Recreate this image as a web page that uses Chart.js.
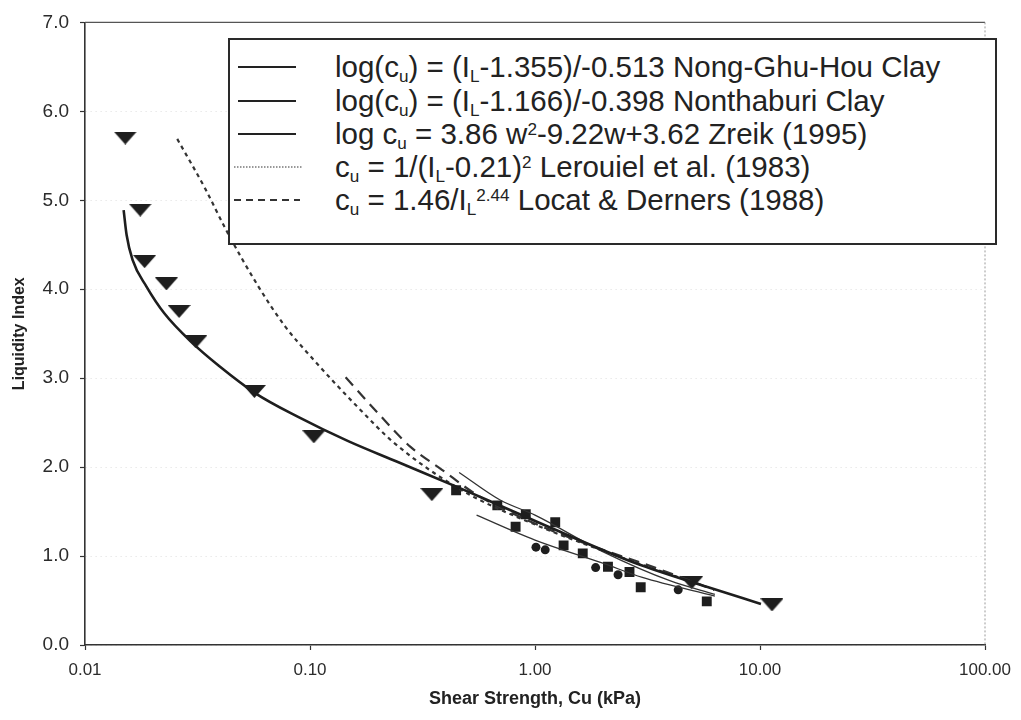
<!DOCTYPE html>
<html>
<head>
<meta charset="utf-8">
<title>Liquidity Index vs Shear Strength</title>
<script src="https://cdn.jsdelivr.net/npm/chart.js@4.4.1/dist/chart.umd.min.js"></script>
<style>
  html, body { margin: 0; padding: 0; background: #ffffff; }
  #wrap { position: relative; width: 1021px; height: 720px; overflow: hidden; }
  #chart { display: block; }
  #legend {
    position: absolute; left: 228px; top: 38px; width: 765px; height: 203px;
    border: 2px solid #2a2a2a; background: #ffffff;
    font-family: "Liberation Sans", Arial, sans-serif; font-size: 29.5px; color: #222;
  }
  #legend .row { position: absolute; left: 0; height: 34px; width: 100%; }
  #legend .row svg { position: absolute; left: 4px; top: 0; }
  #legend .row .t { position: absolute; left: 105px; top: 0; line-height: 34px; white-space: nowrap; }
  #legend sub { font-size: 58%; vertical-align: baseline; position: relative; top: 0.3em; }
  #legend sup { font-size: 58%; vertical-align: baseline; position: relative; top: -0.55em; }
</style>
</head>
<body>
<div id="wrap">
  <canvas id="chart" width="1021" height="720"></canvas>
  <div id="legend">
    <div class="row" style="top:10px"><svg width="80" height="34"><line x1="4" y1="17" x2="62" y2="17" stroke="#222" stroke-width="2"/></svg>
      <span class="t">log(c<sub>u</sub>) = (I<sub>L</sub>-1.355)/-0.513 Nong-Ghu-Hou Clay</span></div>
    <div class="row" style="top:44px"><svg width="80" height="34"><line x1="4" y1="17" x2="62" y2="17" stroke="#222" stroke-width="2"/></svg>
      <span class="t">log(c<sub>u</sub>) = (I<sub>L</sub>-1.166)/-0.398 Nonthaburi Clay</span></div>
    <div class="row" style="top:77px"><svg width="80" height="34"><line x1="4" y1="17" x2="62" y2="17" stroke="#222" stroke-width="2"/></svg>
      <span class="t">log c<sub>u</sub> = 3.86 w<sup>2</sup>-9.22w+3.62 Zreik (1995)</span></div>
    <div class="row" style="top:110px"><svg width="80" height="34"><line x1="0" y1="17" x2="68" y2="17" stroke="#777" stroke-width="1.5" stroke-dasharray="1.5 1.5"/></svg>
      <span class="t">c<sub>u</sub> = 1/(I<sub>L</sub>-0.21)<sup>2</sup> Lerouiel et al. (1983)</span></div>
    <div class="row" style="top:143px"><svg width="80" height="34"><line x1="0" y1="17" x2="66" y2="17" stroke="#333" stroke-width="1.8" stroke-dasharray="7 5"/></svg>
      <span class="t">c<sub>u</sub> = 1.46/I<sub>L</sub><sup>2.44</sup> Locat &amp; Derners (1988)</span></div>
  </div>
</div>
<script>
// ---- axis ticks ----
const xTickValues = [0.01, 0.1, 1, 10, 100];
const yTickValues = [0, 1, 2, 3, 4, 5, 6, 7];

// ---- fitted curves (shear strength cu in kPa, liquidity index IL) ----
const zreikCu = [0.01485, 0.01531, 0.01627, 0.01876, 0.02251, 0.0299, 0.03933, 0.05724, 0.08855, 0.147, 0.2442, 0.4721, 0.673, 1.328, 2.786, 5.842, 10.1];
const zreikLI = [4.89, 4.61, 4.33, 4.03, 3.73, 3.40, 3.14, 2.83, 2.565, 2.295, 2.06, 1.755, 1.586, 1.26, 0.922, 0.652, 0.461];

const nongGhuHouCu = [0.46, 0.70, 1.0, 2.0, 4.0, 6.3];
const nongGhuHouLI = [1.94, 1.63, 1.46, 1.05, 0.72, 0.57];

const nonthaburiCu = [0.55, 1.0, 2.0, 3.0, 6.3];
const nonthaburiLI = [1.46, 1.18, 0.92, 0.76, 0.55];

const leroueilCu = [0.0257, 0.0344, 0.0423, 0.059, 0.0776, 0.101, 0.168, 0.237, 0.472, 1.01, 2.27, 5.1];
const leroueilLI = [5.69, 5.12, 4.67, 4.03, 3.58, 3.24, 2.64, 2.27, 1.74, 1.35, 1.01, 0.70];

const locatCu = [0.144, 0.20, 0.279, 0.386, 0.55, 0.825, 1.52, 3.41, 6.27];
const locatLI = [3.01, 2.61, 2.23, 1.97, 1.69, 1.46, 1.18, 0.87, 0.62];

// ---- measured data ----
const triangleCu = [0.0151, 0.0176, 0.0184, 0.0230, 0.0262, 0.0311, 0.0566, 0.104, 0.348, 4.97, 11.3];
const triangleLI = [5.70, 4.89, 4.31, 4.06, 3.75, 3.41, 2.85, 2.34, 1.69, 0.70, 0.45];

const squareCu = [0.446, 0.68, 0.91, 0.82, 1.23, 1.34, 1.63, 2.11, 2.63, 2.95, 5.80];
const squareLI = [1.74, 1.57, 1.47, 1.33, 1.38, 1.12, 1.03, 0.88, 0.82, 0.65, 0.49];

const circleCu = [1.01, 1.11, 1.86, 2.34, 4.33];
const circleLI = [1.10, 1.07, 0.87, 0.79, 0.62];

const pts = (xs, ys) => xs.map((x, i) => ({ x: x, y: ys[i] }));

// flat, downward-pointing triangle marker
function makeTriangle() {
  const c = document.createElement('canvas');
  c.width = 23; c.height = 13;
  const g = c.getContext('2d');
  g.fillStyle = '#1e1e1e';
  g.beginPath(); g.moveTo(0, 0); g.lineTo(23, 0); g.lineTo(11.5, 13); g.closePath(); g.fill();
  return c;
}

const ink = '#1e1e1e';
const curve = (label, xs, ys, width, color, dash) => ({
  type: 'scatter', label: label, data: pts(xs, ys), showLine: true, cubicInterpolationMode: 'monotone',
  borderColor: color, borderWidth: width, borderDash: dash || [], pointRadius: 0, fill: false
});

// plot frame (top and right edges of the plot area)
const frame = {
  id: 'frame',
  beforeDatasetsDraw(chart) {
    const { ctx, chartArea: a } = chart;
    ctx.save();
    ctx.strokeStyle = '#555'; ctx.lineWidth = 1.2;
    ctx.beginPath(); ctx.moveTo(a.left, a.top); ctx.lineTo(a.right, a.top); ctx.stroke();
    ctx.strokeStyle = '#9a9a9a'; ctx.lineWidth = 1; ctx.setLineDash([2, 2]);
    ctx.beginPath(); ctx.moveTo(a.right, a.top); ctx.lineTo(a.right, a.bottom); ctx.stroke();
    ctx.restore();
  }
};

const fontFamily = '"Liberation Sans", Arial, sans-serif';

new Chart(document.getElementById('chart'), {
  type: 'scatter',
  data: {
    datasets: [
      curve('Zreik (1995)', zreikCu, zreikLI, 2.6, ink),
      curve('Nong-Ghu-Hou Clay', nongGhuHouCu, nongGhuHouLI, 1.3, '#333'),
      curve('Nonthaburi Clay', nonthaburiCu, nonthaburiLI, 1.3, '#333'),
      curve('Lerouiel et al. (1983)', leroueilCu, leroueilLI, 2.2, '#333', [4, 4]),
      curve('Locat & Derners (1988)', locatCu, locatLI, 2.2, '#333', [11, 7]),
      { label: 'Zreik data', data: pts(triangleCu, triangleLI), pointStyle: makeTriangle(), pointRadius: 8, showLine: false },
      { label: 'Nong-Ghu-Hou data', data: pts(squareCu, squareLI), pointStyle: 'rect', pointRadius: 7, backgroundColor: ink, borderColor: ink, borderWidth: 0, showLine: false },
      { label: 'Nonthaburi data', data: pts(circleCu, circleLI), pointStyle: 'circle', pointRadius: 4.5, backgroundColor: ink, borderColor: ink, borderWidth: 0, showLine: false }
    ]
  },
  options: {
    responsive: false,
    animation: false,
    layout: { padding: { top: 22, right: 28, left: 0, bottom: 0 } },
    plugins: { legend: { display: false }, tooltip: { enabled: false } },
    scales: {
      x: {
        type: 'logarithmic', min: 0.01, max: 100,
        afterBuildTicks: s => { s.ticks = xTickValues.map(v => ({ value: v })); },
        afterFit: s => { s.height = 75; },
        ticks: { color: '#2b2b2b', padding: 10, maxRotation: 0, autoSkip: false,
                 font: { family: fontFamily, size: 17 },
                 callback: v => Number(v).toFixed(2) },
        grid: { drawOnChartArea: false, tickLength: 5, tickColor: '#333', tickWidth: 1.2 },
        border: { color: '#333', width: 1.6 },
        title: { display: true, text: 'Shear Strength, Cu (kPa)', color: '#222',
                 font: { family: fontFamily, size: 18, weight: 'bold' },
                 padding: { top: 0, bottom: 10 } }
      },
      y: {
        type: 'linear', min: 0, max: 7,
        afterBuildTicks: s => { s.ticks = yTickValues.map(v => ({ value: v })); },
        afterFit: s => { s.width = 85; },
        ticks: { color: '#2b2b2b', padding: 11,
                 font: { family: fontFamily, size: 19 },
                 callback: v => Number(v).toFixed(1) },
        grid: { drawOnChartArea: true, color: '#dedede', lineWidth: 1,
                tickLength: 5, tickColor: '#333', tickWidth: 1.2 },
        border: { color: '#333', width: 1.6, dash: [1, 4] },
        title: { display: true, text: 'Liquidity Index', color: '#222',
                 font: { family: fontFamily, size: 16, weight: 'bold' },
                 padding: { top: 10, bottom: 0 } }
      }
    }
  },
  plugins: [frame]
});
</script>
</body>
</html>
